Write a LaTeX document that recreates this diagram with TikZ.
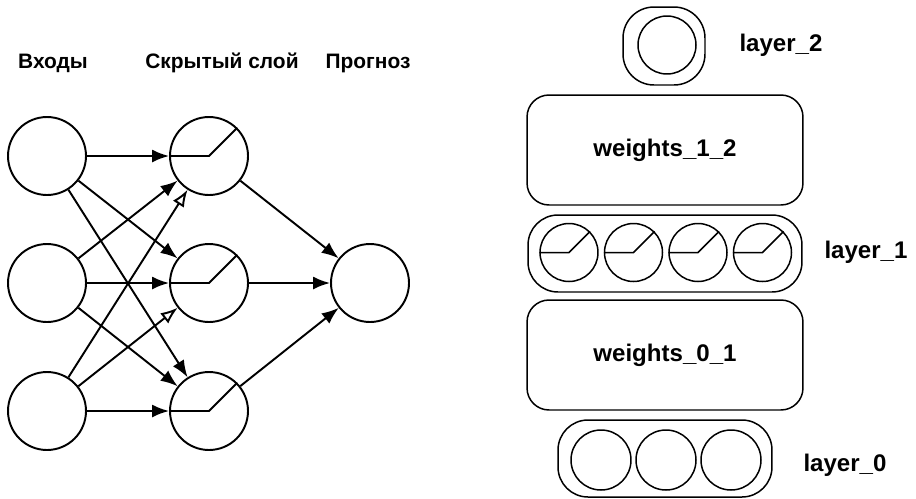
\documentclass[tikz,border=0pt]{standalone}
\usepackage{fontspec}
\setmainfont{Liberation Sans}
\usetikzlibrary{arrows.meta}

\begin{document}
\begin{tikzpicture}[
  x=0.02cm,
  y=-0.02cm,
  every node/.style={font=\bfseries\fontsize{11.9}{14}\selectfont},
  neuron/.style={circle, draw, line width=1.1pt, minimum size=1.56cm, inner sep=0pt},
  unit/.style={circle, draw, line width=0.85pt, minimum size=1.16cm, inner sep=0pt},
  block/.style={draw, line width=0.85pt, rounded corners=0.44cm, minimum width=5.52cm,
                minimum height=2.2cm, inner sep=0pt, font=\bfseries\fontsize{13.7}{16}\selectfont},
  pill/.style={draw, line width=0.85pt, rounded corners=0.6cm, minimum height=1.54cm, inner sep=0pt},
  tag/.style={font=\bfseries\fontsize{13.7}{16}\selectfont},
  conn/.style={line width=1.1pt, -{Latex[length=0.34cm, width=0.26cm]}},
  openconn/.style={line width=1.1pt, -{Latex[length=0.34cm, width=0.26cm, fill=white]}},
  relu/.style={line width=1.1pt},
  smallrelu/.style={line width=0.85pt}
]
  % ---- common bounding box ----
  \path (0,0) rectangle (916,498);

  % ---- column titles ----
  \node (tin)  at (53,63)  {Входы};
  \node (thid) at (222,63) {Скрытый слой};
  \node (tout) at (368,63) {Прогноз};

  % ---- inputs, hidden layer, prediction ----
  \foreach \i/\y in {1/156, 2/283, 3/411} {
    \node[neuron] (in\i)  at (47,\y)  {};
    \node[neuron] (hid\i) at (209,\y) {};
    \draw[relu] (hid\i.west) -- (hid\i.center) -- (hid\i.45);
  }
  \node[neuron] (out) at (370,283) {};

  % ---- weights input -> hidden (two open heads) ----
  \foreach \i/\j/\s in {1/1/conn, 1/2/conn, 1/3/conn,
                        2/1/conn, 2/2/conn, 2/3/conn,
                        3/1/openconn, 3/2/openconn, 3/3/conn}
    \draw[\s] (in\i) -- (hid\j);

  % ---- weights hidden -> prediction ----
  \foreach \j in {1,2,3}
    \draw[conn] (hid\j) -- (out);

  % ---- right stack: layer_2 ----
  \node[pill, rounded corners=0.62cm, minimum width=1.64cm, minimum height=1.56cm] (l2box) at (664,46) {};
  \node[unit] (l2u) at (667,45) {};
  \node[tag] (l2lab) at (781,45) {layer\_2};

  % ---- weights_1_2 ----
  \node[block] (w12) at (665,150) {weights\_1\_2};

  % ---- layer_1 ----
  \node[pill, minimum width=5.48cm] (l1box) at (665,253.5) {};
  \foreach \k/\x in {1/569, 2/633.5, 3/698, 4/762.5} {
    \node[unit] (l1u\k) at (\x,252.5) {};
    \draw[smallrelu] (l1u\k.west) -- (l1u\k.center) -- (l1u\k.45);
  }
  \node[tag] (l1lab) at (866,252) {layer\_1};

  % ---- weights_0_1 ----
  \node[block] (w01) at (665,355) {weights\_0\_1};

  % ---- layer_0 ----
  \node[pill, minimum width=4.28cm] (l0box) at (665,458.5) {};
  \foreach \k/\x in {1/601, 2/666, 3/731}
    \node[unit, minimum size=1.2cm] (l0u\k) at (\x,460) {};
  \node[tag] (l0lab) at (845,465) {layer\_0};
\end{tikzpicture}
\end{document}
